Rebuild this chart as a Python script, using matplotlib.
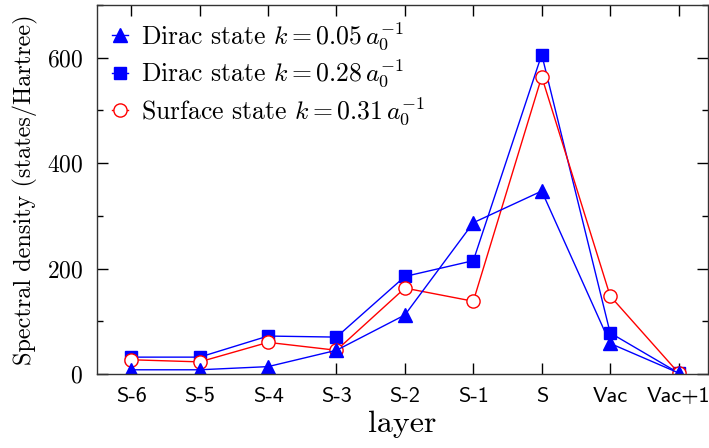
import matplotlib
matplotlib.use("Agg")
import matplotlib.pyplot as plt
from matplotlib.ticker import MultipleLocator

plt.rcParams['mathtext.fontset'] = 'cm'
plt.rcParams['axes.unicode_minus'] = False
plt.rcParams['font.family'] = ['cmr10', 'DejaVu Serif']
plt.rcParams['axes.formatter.use_mathtext'] = True

layers = ['S-6', 'S-5', 'S-4', 'S-3', 'S-2', 'S-1', 'S', 'Vac', 'Vac+1']
dirac_005 = [8, 8, 14, 45, 112, 287, 347, 58, 2]
dirac_028 = [32, 32, 72, 70, 185, 215, 606, 78, 2]
surface_031 = [27, 23, 60, 45, 163, 138, 564, 148, 2]

x = list(range(len(layers)))

fig = plt.figure(figsize=(7.09, 4.48), dpi=100)
ax = fig.add_axes([97/709, 1 - 374/448, (708-97)/709, (374-5)/448])

l2, = ax.plot(x, dirac_028, color='blue', lw=1, marker='s', ms=9,
              mfc='blue', mec='blue', label=r'Dirac state $k = 0.28\,a_0^{-1}$')
l3, = ax.plot(x, surface_031, color='red', lw=1, marker='o', ms=9.5,
              mfc='white', mec='red', label=r'Surface state $k = 0.31\,a_0^{-1}$')
l1, = ax.plot(x, dirac_005, color='blue', lw=1, marker='^', ms=10,
              mfc='blue', mec='blue', label=r'Dirac state $k = 0.05\,a_0^{-1}$')

ax.set_xlim(-0.5, 8.43)
ax.set_ylim(0, 700)
ax.set_xticks(x)
ax.set_xticklabels(layers, family='cmss10', fontsize=16)
ax.yaxis.set_major_locator(MultipleLocator(200))
ax.yaxis.set_minor_locator(MultipleLocator(100))
ax.tick_params(axis='both', which='both', direction='in', top=True, right=True)
ax.tick_params(axis='both', which='major', length=8, width=1)
ax.tick_params(axis='y', which='minor', length=4, width=1)
ax.tick_params(axis='y', labelsize=17, pad=10)
ax.tick_params(axis='x', pad=9)
for s in ax.spines.values():
    s.set_linewidth(1)
    s.set_color('#333333')

ax.set_xlabel('layer', fontsize=23, labelpad=4)
ax.set_ylabel('Spectral density (states/Hartree)', fontsize=17.5, labelpad=6)

ax.legend(handles=[l1, l2, l3], loc='upper left', frameon=False, fontsize=18.5,
          handlelength=0.6, handletextpad=0.5, borderaxespad=0.2,
          labelspacing=0.2)

fig.savefig('out.png', dpi=100)
